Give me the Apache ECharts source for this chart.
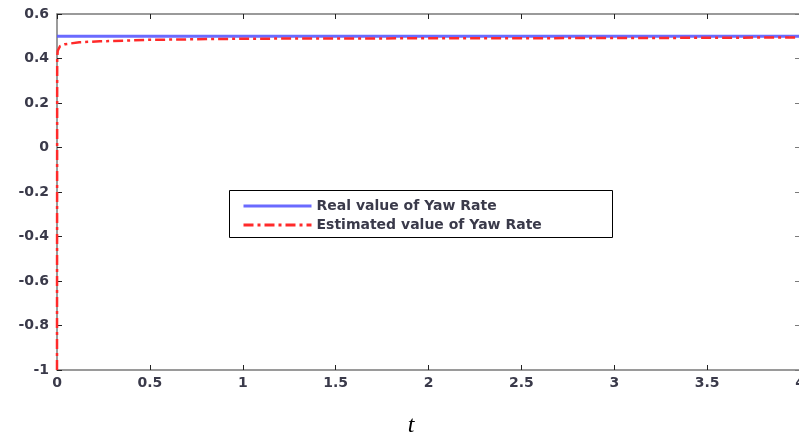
<!DOCTYPE html>
<html>
<head>
<meta charset="utf-8">
<script src="https://cdn.jsdelivr.net/npm/echarts@6/dist/echarts.min.js"></script>
<style>html,body{margin:0;padding:0;background:#fff;}#c{width:799px;height:439px;}</style>
</head>
<body>
<div id="c"></div>
<script>
// Data
const realT = [0, 4];
const realV = [0.5, 0.5];
const estT = [0, 0.001, 0.004, 0.016, 0.043, 0.12, 0.23, 0.5, 0.9, 1.3, 2.4, 3.5, 4.0];
const estV = [-1, 0.40, 0.435, 0.455, 0.464, 0.473, 0.477, 0.484, 0.488, 0.490, 0.491, 0.493, 0.495];
const seriesNames = ['Real value of Yaw Rate', 'Estimated value of Yaw Rate'];
const xTickLabels = ['0', '0.5', '1', '1.5', '2', '2.5', '3', '3.5', '4'];
const yTickLabels = ['-1', '-0.8', '-0.6', '-0.4', '-0.2', '0', '0.2', '0.4', '0.6'];
const xName = 't';

const chart = echarts.init(document.getElementById('c'), null, {renderer: 'canvas'});
const axisColor = '#7a7a7a';
const labelFont = {fontFamily: 'DejaVu Sans', fontSize: 14, fontWeight: 'bold', color: '#3a3a4a'};
function xFmt(v){ const i = Math.round(v / 0.5); return xTickLabels[i] !== undefined ? xTickLabels[i] : ''; }
function yFmt(v){ const i = Math.round((v + 1) / 0.2); return yTickLabels[i] !== undefined ? yTickLabels[i] : ''; }

chart.setOption({
  animation: false,
  backgroundColor: '#fff',
  grid: {left: 57, top: 14, width: 743, height: 356, containLabel: false, outerBoundsMode: 'none'},
  xAxis: [{
    type: 'value', min: 0, max: 4, interval: 0.5, position: 'bottom',
    name: xName, nameLocation: 'middle', nameGap: 44,
    nameTextStyle: {fontFamily: 'Liberation Serif', fontStyle: 'italic', fontSize: 24, color: '#000', padding: [0, 35, 0, 0]},
    axisLine: {show: true, onZero: false, lineStyle: {color: axisColor, width: 1.5}},
    axisTick: {show: true, inside: true, length: 5, lineStyle: {color: '#222', width: 1}},
    axisLabel: Object.assign({margin: 6, formatter: xFmt}, labelFont),
    splitLine: {show: false}
  }, {
    type: 'value', min: 0, max: 4, interval: 0.5, position: 'top',
    axisLine: {show: true, onZero: false, lineStyle: {color: axisColor, width: 1.5}},
    axisTick: {show: true, inside: true, length: 5, lineStyle: {color: '#222', width: 1}},
    axisLabel: {show: false}, splitLine: {show: false}
  }],
  yAxis: [{
    type: 'value', min: -1, max: 0.6, interval: 0.2, position: 'left',
    axisLine: {show: true, onZero: false, lineStyle: {color: axisColor, width: 1.5}},
    axisTick: {show: true, inside: true, length: 5, lineStyle: {color: '#222', width: 1}},
    axisLabel: Object.assign({margin: 8, formatter: yFmt}, labelFont),
    splitLine: {show: false}
  }, {
    type: 'value', min: -1, max: 0.6, interval: 0.2, position: 'right',
    axisLine: {show: true, onZero: false, lineStyle: {color: axisColor, width: 1.5}},
    axisTick: {show: true, inside: true, length: 5},
    axisLabel: {show: false}, splitLine: {show: false}
  }],
  legend: {
    show: true, orient: 'vertical', left: 229, top: 190,
    padding: [9, 10, 5, 13], itemGap: 5, itemWidth: 68, itemHeight: 14,
    itemStyle: {opacity: 0},
    lineStyle: {width: 3},
    textStyle: {fontFamily: 'DejaVu Sans', fontSize: 14, fontWeight: 'bold', color: '#3a3a4a'},
    data: seriesNames
  },
  graphic: [{
    type: 'rect', left: 229, top: 190, z: -1, silent: true,
    shape: {width: 383, height: 47},
    style: {fill: '#fff', stroke: '#000', lineWidth: 1}
  }],
  series: [{
    name: seriesNames[0], type: 'line', symbol: 'none',
    data: realT.map((t, i) => [t, realV[i]]),
    lineStyle: {color: '#5a5aff', width: 3, opacity: 0.9},
    itemStyle: {color: '#5a5aff'}, z: 2
  }, {
    name: seriesNames[1], type: 'line', symbol: 'none',
    data: estT.map((t, i) => [t, estV[i]]),
    lineStyle: {color: '#ff2a2a', width: 2.5, type: [10, 4, 3, 4]},
    itemStyle: {color: '#ff2a2a'}, z: 3
  }]
});
</script>
</body>
</html>
